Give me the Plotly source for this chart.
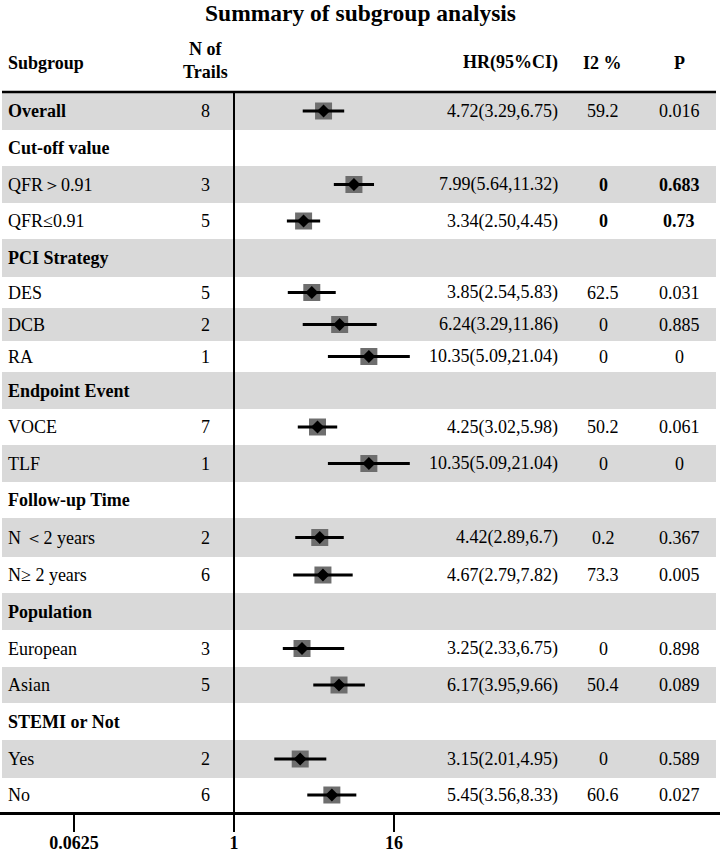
import plotly.graph_objects as go

# ---------------- data ----------------
subgroups = ["Overall", "Cut-off value", "QFR＞0.91", "QFR≤0.91", "PCI Strategy",
             "DES", "DCB", "RA", "Endpoint Event", "VOCE", "TLF", "Follow-up Time",
             "N ＜2 years", "N≥ 2 years", "Population", "European", "Asian",
             "STEMI or Not", "Yes", "No"]
bold_label = [True, True, False, False, True, False, False, False, True, False,
              False, True, False, False, True, False, False, True, False, False]
n_trials = [8, None, 3, 5, None, 5, 2, 1, None, 7, 1, None, 2, 6, None, 3, 5, None, 2, 6]
hr = [4.72, None, 7.99, 3.34, None, 3.85, 6.24, 10.35, None, 4.25, 10.35, None,
      4.42, 4.67, None, 3.25, 6.17, None, 3.15, 5.45]
ci_low = [3.29, None, 5.64, 2.50, None, 2.54, 3.29, 5.09, None, 3.02, 5.09, None,
          2.89, 2.79, None, 2.33, 3.95, None, 2.01, 3.56]
ci_high = [6.75, None, 11.32, 4.45, None, 5.83, 11.86, 21.04, None, 5.98, 21.04, None,
           6.7, 7.82, None, 6.75, 9.66, None, 4.95, 8.33]
hr_text = ["4.72(3.29,6.75)", "", "7.99(5.64,11.32)", "3.34(2.50,4.45)", "",
           "3.85(2.54,5.83)", "6.24(3.29,11.86)", "10.35(5.09,21.04)", "",
           "4.25(3.02,5.98)", "10.35(5.09,21.04)", "", "4.42(2.89,6.7)",
           "4.67(2.79,7.82)", "", "3.25(2.33,6.75)", "6.17(3.95,9.66)", "",
           "3.15(2.01,4.95)", "5.45(3.56,8.33)"]
i2_text = ["59.2", "", "0", "0", "", "62.5", "0", "0", "", "50.2", "0", "",
           "0.2", "73.3", "", "0", "50.4", "", "0", "60.6"]
p_text = ["0.016", "", "0.683", "0.73", "", "0.031", "0.885", "0", "", "0.061", "0", "",
          "0.367", "0.005", "", "0.898", "0.089", "", "0.589", "0.027"]
bold_stats = [False, False, True, True] + [False] * 16
tick_vals = [0.0625, 1, 16]
tick_labels = ["0.0625", "1", "16"]

# ---------------- layout helpers (pixel coordinates) ----------------
W, H = 720, 854
TOP, BOT = 92, 812           # plot area top/bottom in pixels
ROW_H = [38, 36, 37, 36, 38, 31, 33, 31, 37, 36, 37, 36, 39, 36, 37, 37, 36, 37, 38, 34]
tops = []
acc = 0
for h in ROW_H:
    tops.append(acc)
    acc += h
centers = [t + h / 2 for t, h in zip(tops, ROW_H)]

FONT = "Liberation Serif, Times New Roman, serif"


def px(x):
    return x / W


def py(y):
    return (BOT - y) / (BOT - TOP)


data_idx = [i for i, v in enumerate(hr) if v is not None]

fig = go.Figure()

# squares
fig.add_trace(go.Scatter(
    x=[hr[i] for i in data_idx], y=[centers[i] for i in data_idx],
    mode="markers", marker=dict(symbol="square", size=17, color="#6e6e6e",
                                line=dict(width=0)),
    hoverinfo="skip"))

# CI lines
lx, ly = [], []
for i in data_idx:
    lx += [ci_low[i], ci_high[i], None]
    ly += [centers[i], centers[i], None]
fig.add_trace(go.Scatter(x=lx, y=ly, mode="lines",
                         line=dict(color="black", width=3.2),
                         hoverinfo="skip"))

# diamonds
fig.add_trace(go.Scatter(
    x=[hr[i] for i in data_idx], y=[centers[i] for i in data_idx],
    mode="markers", marker=dict(symbol="diamond", size=10, color="black",
                                line=dict(width=0)),
    hoverinfo="skip"))

shapes = []
for i, (t, h) in enumerate(zip(tops, ROW_H)):
    if i % 2 == 0:
        shapes.append(dict(type="rect", xref="paper", yref="y",
                           x0=px(2), x1=px(716), y0=t, y1=t + h,
                           fillcolor="#d9d9d9", line=dict(width=0), layer="below"))
shapes.append(dict(type="line", xref="paper", yref="paper",
                   x0=px(2), x1=px(716), y0=1, y1=1,
                   line=dict(color="black", width=2.6)))
shapes.append(dict(type="line", xref="x", yref="paper",
                   x0=1, x1=1, y0=0, y1=1,
                   line=dict(color="black", width=2)))

ann = []
ann.append(dict(text="<b>Summary of subgroup analysis</b>", xref="paper", yref="paper",
                x=px(360), y=py(13), xanchor="center", yanchor="middle",
                showarrow=False, font=dict(family=FONT, size=23.5, color="black")))
hfont = dict(family=FONT, size=18, color="black")
ann.append(dict(text="<b>Subgroup</b>", xref="paper", yref="paper", x=px(6), y=py(63),
                xanchor="left", yanchor="middle", showarrow=False, font=hfont))
ann.append(dict(text="<b>N of</b><br><b>Trails</b>", xref="paper", yref="paper",
                x=px(205), y=py(61), xanchor="center", yanchor="middle",
                showarrow=False, font=hfont))
ann.append(dict(text="<b>HR(95%CI)</b>", xref="paper", yref="paper", x=px(560), y=py(63),
                xanchor="right", yanchor="middle", showarrow=False, font=hfont))
ann.append(dict(text="<b>I2 %</b>", xref="paper", yref="paper", x=px(602), y=py(63),
                xanchor="center", yanchor="middle", showarrow=False, font=hfont))
ann.append(dict(text="<b>P</b>", xref="paper", yref="paper", x=px(679), y=py(63),
                xanchor="center", yanchor="middle", showarrow=False, font=hfont))

cfont = dict(family=FONT, size=18, color="black")


def b(s, flag):
    return f"<b>{s}</b>" if flag and s != "" else s


for i, name in enumerate(subgroups):
    yc = centers[i]
    ann.append(dict(text=b(name, bold_label[i]), xref="paper", yref="y", x=px(6), y=yc,
                    xanchor="left", yanchor="middle", showarrow=False, font=cfont))
    if n_trials[i] is not None:
        ann.append(dict(text=str(n_trials[i]), xref="paper", yref="y", x=px(205), y=yc,
                        xanchor="center", yanchor="middle", showarrow=False, font=cfont))
        ann.append(dict(text=hr_text[i], xref="paper", yref="y", x=px(560), y=yc,
                        xanchor="right", yanchor="middle", showarrow=False, font=cfont))
        ann.append(dict(text=b(i2_text[i], bold_stats[i]), xref="paper", yref="y",
                        x=px(603), y=yc, xanchor="center", yanchor="middle",
                        showarrow=False, font=cfont))
        ann.append(dict(text=b(p_text[i], bold_stats[i]), xref="paper", yref="y",
                        x=px(679), y=yc, xanchor="center", yanchor="middle",
                        showarrow=False, font=cfont))

# log2 scale: HR = 1 at x = 234 px, 40 px per doubling
X1_PX, PX_PER_OCT = 234, 40
L2 = 0.30102999566
x_range = [(-X1_PX / PX_PER_OCT) * L2, ((W - X1_PX) / PX_PER_OCT) * L2]

fig.update_layout(
    width=W, height=H,
    margin=dict(l=0, r=0, t=TOP, b=H - BOT, autoexpand=False),
    paper_bgcolor="white", plot_bgcolor="white",
    showlegend=False, hovermode=False,
    shapes=shapes, annotations=ann,
    xaxis=dict(type="log", range=x_range, showgrid=False, zeroline=False,
               showline=True, linecolor="black", linewidth=2.6,
               ticks="outside", ticklen=17, tickwidth=2, tickcolor="black",
               tickvals=tick_vals, ticktext=[f"<b>{t}</b>" for t in tick_labels],
               tickfont=dict(family=FONT, size=18, color="black"),
               ticklabelstandoff=-4, fixedrange=True),
    yaxis=dict(range=[BOT - TOP, 0], visible=False, showgrid=False,
               zeroline=False, fixedrange=True),
)

fig.write_html("out.html",
               config={"displayModeBar": False, "staticPlot": True},
               post_script="document.body.style.margin='0px';"
                           "document.body.style.overflow='hidden';")
